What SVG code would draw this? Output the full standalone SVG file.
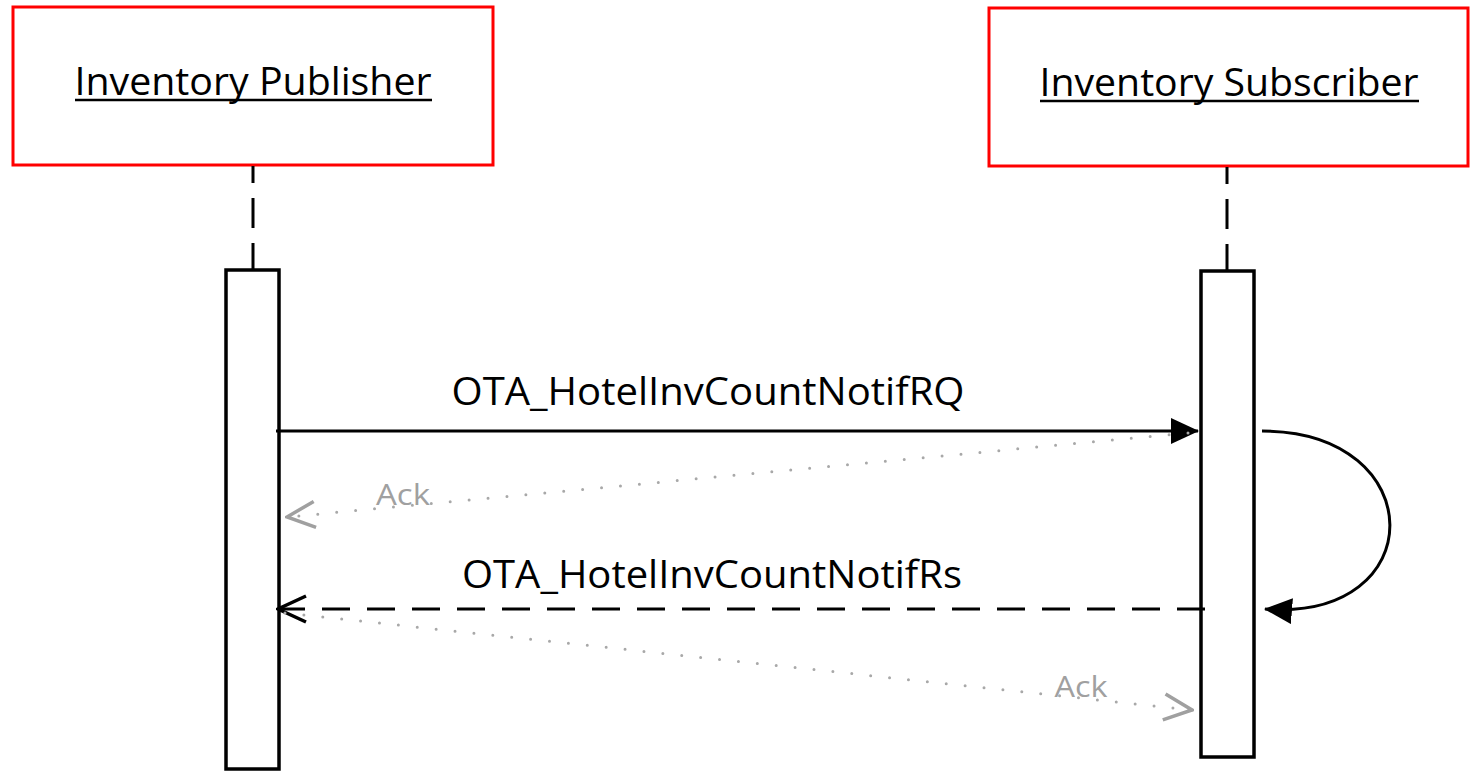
<svg xmlns="http://www.w3.org/2000/svg" width="1481" height="774" viewBox="0 0 1481 774">
<defs>
<style>
.actor{fill:#ffffff;stroke:#ff0000;stroke-width:3}
.act{fill:#ffffff;stroke:#000000;stroke-width:3.5}
.life{stroke:#000;stroke-width:3;stroke-dasharray:17 15 30 15 27;fill:none}
.lbl{font-family:"Open Sans","Noto Sans",sans-serif;font-size:38px;fill:#000}
.ack{font-family:"Open Sans","Noto Sans",sans-serif;font-size:29px;fill:#a0a0a0}
.msg{stroke:#000;stroke-width:3;fill:none}
.dot{stroke:#a8a8a8;stroke-width:3;stroke-linecap:round;stroke-dasharray:0 19;fill:none}
</style>
<marker id="fill" viewBox="0 0 28 26" refX="27" refY="13" markerWidth="28" markerHeight="26" markerUnits="userSpaceOnUse" orient="auto"><path d="M0,0 L28,13 L0,26 Z" fill="#000"/></marker>
<marker id="open" viewBox="0 0 32 32" refX="30" refY="16" markerWidth="32" markerHeight="32" markerUnits="userSpaceOnUse" orient="auto"><path d="M2,3 L30,16 L2,29" fill="none" stroke="#000" stroke-width="3.5"/></marker>
<marker id="opengray" viewBox="0 0 32 32" refX="30" refY="16" markerWidth="32" markerHeight="32" markerUnits="userSpaceOnUse" orient="auto"><path d="M2,3 L30,16 L2,29" fill="none" stroke="#a0a0a0" stroke-width="3.5"/></marker>
</defs>
<rect width="1481" height="774" fill="#ffffff"/>
<g id="publisher">
<rect class="actor" x="13" y="7" width="480" height="158"/>
<text class="lbl" x="253" y="95" text-anchor="middle" textLength="357" lengthAdjust="spacingAndGlyphs">Inventory Publisher</text>
<line x1="75" y1="100" x2="432" y2="100" stroke="#000" stroke-width="2.5"/>
<line class="life" x1="253" y1="166" x2="253" y2="270"/>
<rect class="act" x="226" y="270" width="53" height="499"/>
</g>
<g id="subscriber">
<rect class="actor" x="989" y="8" width="479" height="158"/>
<text class="lbl" x="1229" y="96" text-anchor="middle" textLength="379" lengthAdjust="spacingAndGlyphs">Inventory Subscriber</text>
<line x1="1040" y1="101" x2="1419" y2="101" stroke="#000" stroke-width="2.5"/>
<line class="life" x1="1227" y1="167" x2="1227" y2="271"/>
<rect class="act" x="1201" y="271" width="53" height="486"/>
</g>
<g id="connectors">
<line class="msg" x1="276" y1="431" x2="1198" y2="431" marker-end="url(#fill)"/>
<text class="lbl" x="708" y="405" text-anchor="middle" textLength="513" lengthAdjust="spacingAndGlyphs">OTA_HotelInvCountNotifRQ</text>
<line class="dot" x1="1188" y1="433" x2="287" y2="517" marker-end="url(#opengray)"/>
<text class="ack" x="403" y="505" text-anchor="middle" textLength="54" lengthAdjust="spacingAndGlyphs">Ack</text>
<path class="msg" d="M1262,431 C1432,431 1432,622 1265,609" marker-end="url(#fill)"/>
<line class="msg" x1="1205" y1="609" x2="278" y2="609" stroke-dasharray="28 17" marker-end="url(#open)"/>
<text class="lbl" x="712" y="588" text-anchor="middle" textLength="500" lengthAdjust="spacingAndGlyphs">OTA_HotelInvCountNotifRs</text>
<line class="dot" x1="285" y1="613" x2="1192" y2="710" marker-end="url(#opengray)"/>
<text class="ack" x="1081" y="697" text-anchor="middle" textLength="53" lengthAdjust="spacingAndGlyphs">Ack</text>
</g>
</svg>
